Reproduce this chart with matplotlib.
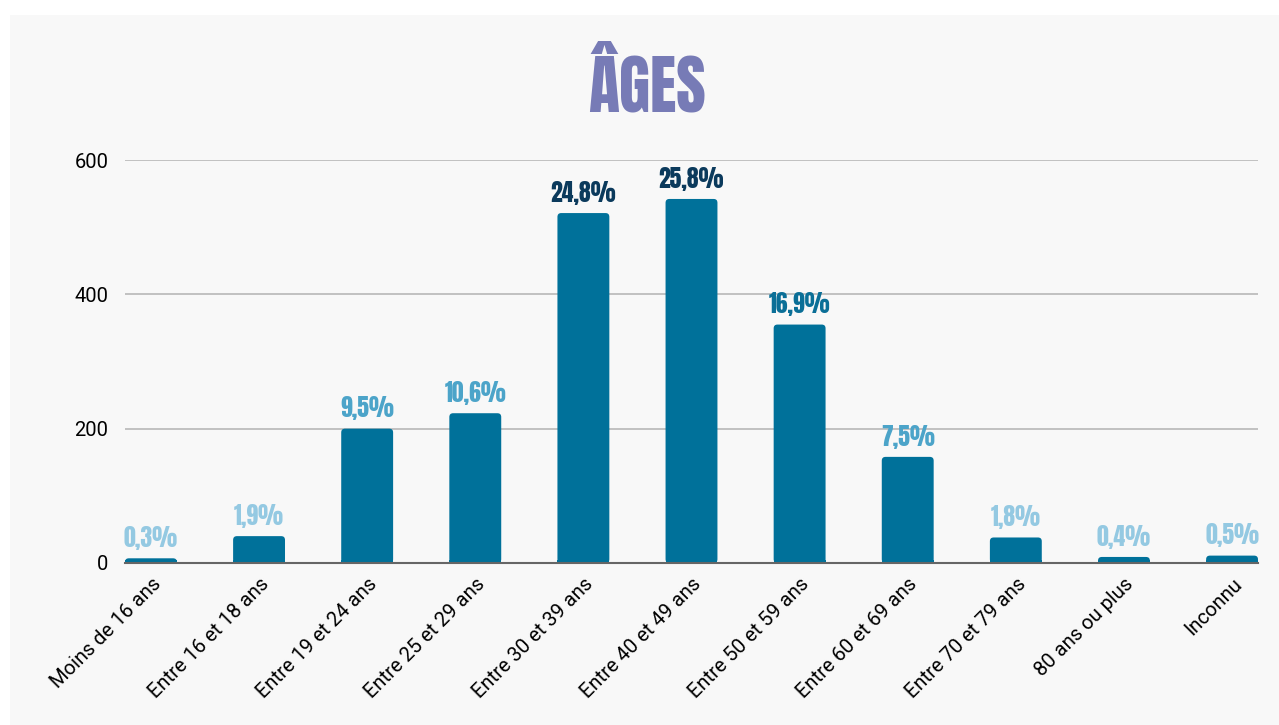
import matplotlib.pyplot as plt
from matplotlib.patches import Rectangle, FancyBboxPatch

categories = ["Moins de 16 ans", "Entre 16 et 18 ans", "Entre 19 et 24 ans",
              "Entre 25 et 29 ans", "Entre 30 et 39 ans", "Entre 40 et 49 ans",
              "Entre 50 et 59 ans", "Entre 60 et 69 ans", "Entre 70 et 79 ans",
              "80 ans ou plus", "Inconnu"]
counts = [7, 40, 200, 223, 521, 542, 355, 158, 38, 9, 11]
pct_labels = ["0,3%", "1,9%", "9,5%", "10,6%", "24,8%", "25,8%",
              "16,9%", "7,5%", "1,8%", "0,4%", "0,5%"]
label_colors = ["#94c9e2", "#94c9e2", "#4ca4c9", "#4ca4c9", "#0b3a5c", "#0b3a5c",
                "#0b6f97", "#4ca4c9", "#94c9e2", "#94c9e2", "#94c9e2"]
yticks = [0, 200, 400, 600]

bar_color = "#00719a"
bg = "#f8f8f8"
cond = ["Anton", "Bebas Neue", "Oswald", "Barlow Condensed", "DejaVu Sans"]

fig = plt.figure(figsize=(12.79, 7.25), dpi=100, facecolor="white")
fig.patches.append(Rectangle((10 / 1279, 0), 1 - 10 / 1279, 1 - 15 / 725,
                             transform=fig.transFigure, facecolor=bg,
                             edgecolor="none", zorder=-10))

ax = fig.add_axes([125 / 1279, (725 - 563) / 725, (1258 - 125) / 1279, (563 - 160) / 725])
ax.patch.set_alpha(0)

width = 0.48
x = list(range(len(categories)))
# data units per pixel, used to keep the corner rounding circular
aspect = (600 / 403) / (10.48 / 1133)
for xi, h in zip(x, counts):
    bx = xi - width / 2
    ax.add_patch(FancyBboxPatch((bx, 0), width, h,
                                boxstyle="round,pad=0,rounding_size=0.035",
                                mutation_aspect=aspect,
                                facecolor=bar_color, edgecolor="none", zorder=3))
    # square off the bottom corners
    ax.add_patch(Rectangle((bx, 0), width, min(h, 5), facecolor=bar_color,
                           edgecolor="none", zorder=3))

for xi, c, lab, col in zip(x, counts, pct_labels, label_colors):
    ax.annotate(lab, (xi, c), xytext=(0, 6), textcoords="offset points",
                ha="center", va="bottom", fontsize=17,
                color=col, family=cond, zorder=4)

ax.set_xlim(-0.24, 10.24)
ax.set_ylim(0, 600)
ax.set_yticks(yticks)
ax.set_yticklabels([str(v) for v in yticks], fontsize=14.5, family="Roboto")
ax.yaxis.grid(True, color="#b8b8b8", linewidth=1.2, zorder=0)
ax.set_axisbelow(True)
ax.tick_params(axis="y", length=0, pad=12)
ax.tick_params(axis="x", length=0, pad=8)
ax.set_xticks(x)
ax.set_xticklabels(categories, rotation=45, ha="right", rotation_mode="anchor",
                   fontsize=14.5, family="Roboto")
for s in ["top", "right", "left"]:
    ax.spines[s].set_visible(False)
ax.spines["bottom"].set_color("#666666")
ax.spines["bottom"].set_linewidth(1.5)
ax.spines["bottom"].set_zorder(5)

fig.text(647 / 1279, 1 - 84 / 725, "ÂGES", ha="center", va="center",
         fontsize=46, color="#777bb6", family=cond)

fig.savefig("out.png", dpi=100, facecolor="white")
